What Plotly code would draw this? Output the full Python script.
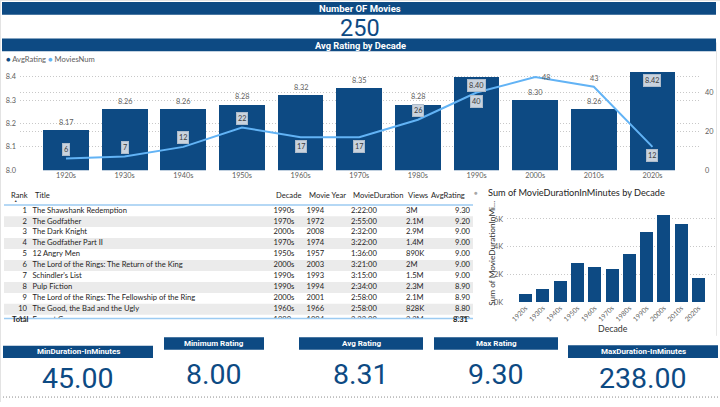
import plotly.graph_objects as go

# ---------------- data ----------------
decades = ["1920s", "1930s", "1940s", "1950s", "1960s", "1970s",
           "1980s", "1990s", "2000s", "2010s", "2020s"]
avg_rating = [8.17, 8.26, 8.26, 8.28, 8.32, 8.35, 8.28, 8.40, 8.30, 8.26, 8.42]
movies_num = [6, 7, 12, 22, 17, 17, 26, 40, 48, 43, 12]
duration_sum = [570, 880, 1480, 2790, 2480, 2360, 3460, 5050, 6240, 5640, 1710]

table_rank = [1, 2, 3, 4, 5, 6, 7, 8, 9, 10, 11]
table_title = ["The Shawshank Redemption", "The Godfather", "The Dark Knight",
               "The Godfather Part II", "12 Angry Men",
               "The Lord of the Rings: The Return of the King", "Schindler's List",
               "Pulp Fiction", "The Lord of the Rings: The Fellowship of the Ring",
               "The Good, the Bad and the Ugly", "Forrest Gump"]
table_decade = ["1990s", "1970s", "2000s", "1970s", "1950s", "2000s",
                "1990s", "1990s", "2000s", "1960s", "1990s"]
table_year = [1994, 1972, 2008, 1974, 1957, 2003, 1993, 1994, 2001, 1966, 1994]
table_duration = ["2:22:00", "2:55:00", "2:32:00", "3:22:00", "1:36:00", "3:21:00",
                  "3:15:00", "2:34:00", "2:58:00", "2:58:00", "2:22:00"]
table_views = ["3M", "2.1M", "2.9M", "1.4M", "890K", "2M", "1.5M", "2.3M",
               "2.1M", "828K", "2.2M"]
table_rating = [9.30, 9.20, 9.00, 9.00, 9.00, 9.00, 9.00, 8.90, 8.90, 8.80, 8.80]
table_total_rating = 8.31

number_of_movies = 250
kpi_labels = ["MinDuration-InMinutes", "Minimum Rating", "Avg Rating",
              "Max Rating", "MaxDuration-InMinutes"]
kpi_values = [45.00, 8.00, 8.31, 9.30, 238.00]

# ---------------- style ----------------
W, H = 720, 407
BLUE = "#0d4a83"
LIGHT = "#62b3f5"
GRID = "#c8c8c8"
AXIS_TXT = "#605e5c"
TXT = "#252423"
SEGOE = "Lato, Noto Sans, sans-serif"
DIN = "Roboto, DejaVu Sans, sans-serif"
BOX_FILL = "#c9d3de"
BOX_LINE = "#aebccb"
DOTS = "1px,2px"


def px(x):
    return x / W


def py(y):
    return 1 - y / H


fig = go.Figure()

# ---------- combo chart ----------
fig.add_trace(go.Bar(x=decades, y=avg_rating, marker=dict(color=BLUE, line=dict(width=0)),
                     width=0.78, xaxis="x", yaxis="y", hoverinfo="skip", showlegend=False))
fig.add_trace(go.Scatter(x=decades, y=movies_num, mode="lines",
                         line=dict(color=LIGHT, width=2), xaxis="x", yaxis="y2",
                         hoverinfo="skip", showlegend=False))

for d, v in zip(decades, avg_rating):
    inside = v >= 8.39
    fig.add_annotation(x=d, y=v, xref="x", yref="y", text=f"{v:.2f}", showarrow=False,
                       yshift=-8.5 if inside else 8,
                       font=dict(family=SEGOE, size=7.3, color="#3b3b3b" if inside else AXIS_TXT),
                       bgcolor=BOX_FILL if inside else "rgba(0,0,0,0)",
                       bordercolor=BOX_LINE if inside else "rgba(0,0,0,0)",
                       borderwidth=1, borderpad=1)

line_label_shift = [9, 9, 9, 9, -9, -9, 9, -8.5, 0, 8.5, -8.5]
line_label_xshift = [0, 0, 0, 0, 0, 0, 0, 0, 11, 0, 0]
line_label_boxed = [True, True, True, True, True, True, True, True, False, False, True]
for d, v, ys, xs, boxed in zip(decades, movies_num, line_label_shift,
                               line_label_xshift, line_label_boxed):
    fig.add_annotation(x=d, y=v, xref="x", yref="y2", text=str(v), showarrow=False,
                       yshift=ys, xshift=xs,
                       font=dict(family=SEGOE, size=7.3, color="#3b3b3b" if boxed else AXIS_TXT),
                       bgcolor=BOX_FILL if boxed else "rgba(0,0,0,0)",
                       bordercolor=BOX_LINE if boxed else "rgba(0,0,0,0)",
                       borderwidth=1, borderpad=1)

# ---------- duration chart ----------
fig.add_trace(go.Bar(x=decades, y=duration_sum, marker=dict(color=BLUE, line=dict(width=0)),
                     width=0.75, xaxis="x4", yaxis="y4", hoverinfo="skip", showlegend=False))

# ---------- table ----------
TABLE_LEFT, TABLE_RIGHT = 4, 473
for r in table_rank:
    if r % 2 == 0:
        fig.add_shape(type="rect", xref="x3", yref="y3", x0=TABLE_LEFT, x1=TABLE_RIGHT,
                      y0=r - 0.5, y1=r + 0.5, fillcolor="#ebebeb", line=dict(width=0),
                      layer="below")

TFONT = 7.6
table_cols = [
    (table_rank, [str(v) for v in table_rank], 27, "middle left"),
    (table_title, table_title, 32.5, "middle right"),
    (table_decade, table_decade, 273.5, "middle right"),
    (table_year, [str(v) for v in table_year], 306.5, "middle right"),
    (table_duration, table_duration, 351, "middle right"),
    (table_views, table_views, 406, "middle right"),
    (table_rating, [f"{v:.2f}" for v in table_rating], 470, "middle left"),
]
for vals, texts, cx, tpos in table_cols:
    fig.add_trace(go.Scatter(x=[cx] * len(vals), y=table_rank, mode="text", text=texts,
                             textposition=tpos, cliponaxis=True,
                             textfont=dict(family=SEGOE, size=TFONT, color=TXT),
                             xaxis="x3", yaxis="y3", hoverinfo="skip", showlegend=False))

headers = [("Rank", 9, "left"), ("Title", 32.5, "left"), ("Decade", 273.5, "left"),
           ("Movie Year", 306.5, "left"), ("MovieDuration", 351, "left"),
           ("Views", 406, "left"), ("AvgRating", 467, "right")]
for t, hx, anc in headers:
    fig.add_annotation(x=px(hx), y=py(197.5), xref="paper", yref="paper", text=t,
                       showarrow=False, xanchor=anc, yanchor="middle",
                       font=dict(family=SEGOE, size=TFONT, color=TXT))
fig.add_annotation(x=px(12), y=py(204), xref="paper", yref="paper", text="▲",
                   showarrow=False, font=dict(family=SEGOE, size=3.5, color="#444"))
fig.add_annotation(x=px(10), y=py(330), xref="paper", yref="paper", text="<b>Total</b>",
                   showarrow=False, xanchor="left", font=dict(family=SEGOE, size=TFONT, color=TXT))
fig.add_annotation(x=px(470), y=py(330), xref="paper", yref="paper",
                   text=f"<b>{table_total_rating:.2f}</b>", showarrow=False, xanchor="right",
                   font=dict(family=SEGOE, size=TFONT, color=TXT))

# ---------- shapes (frames, header bars) ----------
shapes = []


def rect(x0, y0, x1, y1, color=BLUE):
    shapes.append(dict(type="rect", xref="paper", yref="paper", x0=px(x0), x1=px(x1),
                       y0=py(y1), y1=py(y0), fillcolor=color, line=dict(width=0),
                       layer="below"))


def hline(x0, x1, y, color, width=1, dash="solid"):
    shapes.append(dict(type="line", xref="paper", yref="paper", x0=px(x0), x1=px(x1),
                       y0=py(y), y1=py(y), line=dict(color=color, width=width, dash=dash)))


def vline(x, y0, y1, color, width=1):
    shapes.append(dict(type="line", xref="paper", yref="paper", x0=px(x), x1=px(x),
                       y0=py(y0), y1=py(y1), line=dict(color=color, width=width)))


rect(2, 2, 716, 15)
rect(2, 39, 716, 52)
kpi_boxes = [(3, 350, 153, 362.5), (164, 341.5, 264, 354), (299, 341.5, 423, 354),
             (434, 341.5, 558, 354), (568, 349.5, 718, 362.5)]
for b in kpi_boxes:
    rect(*b)
hline(TABLE_LEFT, TABLE_RIGHT, 207.5, "#9ccbf2", 1.5)
hline(TABLE_LEFT, TABLE_RIGHT, 322.5, "#9ccbf2", 1.5)
hline(0, 720, 402, "#8a8a8a", 1, DOTS)
hline(0, 720, 0.5, "#e3e3e3", 1)
vline(0.5, 0, 407, "#e3e3e3")
vline(716.5, 43, 340, "#e6e6e6")
fig.update_layout(shapes=list(fig.layout.shapes) + shapes)


# ---------- text: titles, KPIs, legend ----------
def ptext(x, y, text, size, color, family=SEGOE, anchor="center", bold=False, angle=0):
    fig.add_annotation(x=px(x), y=py(y), xref="paper", yref="paper", text=text,
                       showarrow=False, xanchor=anchor, yanchor="middle", textangle=angle,
                       font=dict(family=family, size=size, color=color,
                                 weight="bold" if bold else "normal"))


ptext(360, 8.5, "Number OF Movies", 9.5, "white", DIN, bold=True)
ptext(360, 28, str(number_of_movies), 23.5, BLUE, DIN)
ptext(360, 45.7, "Avg Rating by Decade", 9.3, "white", DIN, bold=True)
ptext(4, 60, f"<span style='color:{BLUE}'>●</span> AvgRating "
             f"<span style='color:{LIGHT}'>●</span> MoviesNum", 7.6, AXIS_TXT, anchor="left")

kpi_value_y = [383.5, 379, 379, 379, 383.5]
for (x0, y0, x1, y1), lab, val, vy in zip(kpi_boxes, kpi_labels, kpi_values, kpi_value_y):
    ptext((x0 + x1) / 2, (y0 + y1) / 2, lab, 8, "white", DIN, bold=True)
    ptext((x0 + x1) / 2, vy, f"{val:.2f}", 28.5, BLUE, DIN)

ptext(476, 195, "●", 6, "#a6a6a6")
ptext(486, 195, "Sum of MovieDurationInMinutes by Decade", 9.2, TXT, anchor="left")
ptext(492, 257, "Sum of MovieDurationInMi…", 8.3, "#333333", angle=-90)
ptext(613, 333, "Decade", 8.8, "#333333")

# ---------- axes ----------
tick_font = dict(family=SEGOE, size=7.3, color=AXIS_TXT)
fig.update_layout(
    width=W, height=H, margin=dict(l=0, r=0, t=0, b=0),
    paper_bgcolor="white", plot_bgcolor="rgba(0,0,0,0)", showlegend=False,
    bargap=0,
    xaxis=dict(domain=[px(20), px(700)], anchor="y", type="category",
               range=[-0.784, 10.81], showgrid=False, zeroline=False, showline=False,
               ticks="", tickfont=tick_font, fixedrange=True),
    yaxis=dict(domain=[py(172.3), py(70)], anchor="x", range=[8.0, 8.433],
               tickvals=[8.0, 8.1, 8.2, 8.3, 8.4], ticktext=["8.0", "8.1", "8.2", "8.3", "8.4"],
               showgrid=True, gridcolor=GRID, griddash=DOTS, gridwidth=1,
               zeroline=False, showline=False, ticks="", tickfont=tick_font,
               ticklabelstandoff=3),
    yaxis2=dict(overlaying="y", anchor="x", side="right", range=[0, 52.06],
                tickvals=[0, 20, 40], showgrid=True, gridcolor=GRID, griddash=DOTS,
                zeroline=False, showline=False, ticks="", tickfont=tick_font,
                ticklabelstandoff=4),
    xaxis3=dict(domain=[0, 1], anchor="y3", range=[0, W], visible=False),
    yaxis3=dict(domain=[py(322.5), py(207.5)], anchor="x3", range=[10.84, 0.477],
                visible=False),
    xaxis4=dict(domain=[px(507), px(715)], anchor="y4", type="category",
                range=[-1.07, 10.95], showgrid=False, zeroline=False, showline=False,
                ticks="", tickangle=-45, tickfont=dict(family=SEGOE, size=6.8, color=AXIS_TXT)),
    yaxis4=dict(domain=[py(305.7), py(204.9)], anchor="x4", range=[0, 7200],
                tickvals=[0, 2000, 4000, 6000], ticktext=["0K", "2K", "4K", "6K"],
                showgrid=True, gridcolor=GRID, griddash=DOTS, zeroline=False,
                showline=False, ticks="", tickfont=tick_font, ticklabelstandoff=3),
)

fig.write_html("out.html", config={"displayModeBar": False},
               post_script="document.body.style.margin='0px';")
